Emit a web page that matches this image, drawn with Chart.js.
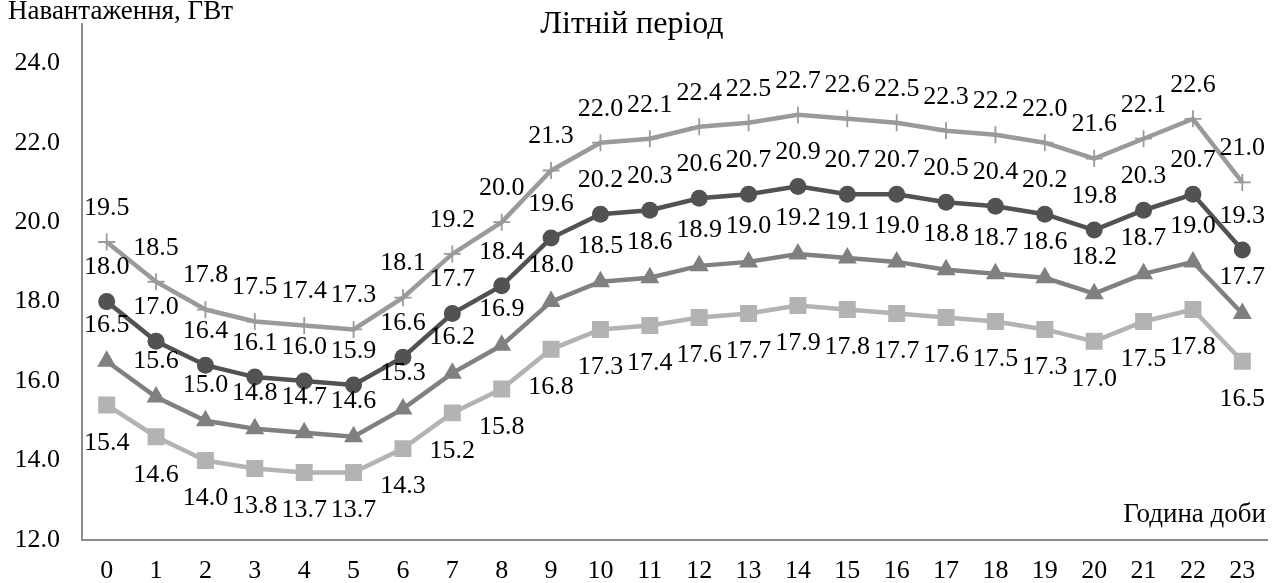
<!DOCTYPE html>
<html>
<head>
<meta charset="utf-8">
<script src="https://cdn.jsdelivr.net/npm/chart.js@4"></script>
<style>
  html, body { margin: 0; padding: 0; background: #fff; }
  #wrap { width: 1279px; height: 583px; position: relative; }
</style>
</head>
<body>
<div id="wrap"><canvas id="loadChart"></canvas></div>
<script>
// hours of the day
const hours = ["0","1","2","3","4","5","6","7","8","9","10","11","12","13","14","15","16","17","18","19","20","21","22","23"];

// load, GW
const seriesCross  = [19.5, 18.5, 17.8, 17.5, 17.4, 17.3, 18.1, 19.2, 20.0, 21.3, 22.0, 22.1, 22.4, 22.5, 22.7, 22.6, 22.5, 22.3, 22.2, 22.0, 21.6, 22.1, 22.6, 21.0];
const seriesCircle = [18.0, 17.0, 16.4, 16.1, 16.0, 15.9, 16.6, 17.7, 18.4, 19.6, 20.2, 20.3, 20.6, 20.7, 20.9, 20.7, 20.7, 20.5, 20.4, 20.2, 19.8, 20.3, 20.7, 19.3];
const seriesTri    = [16.5, 15.6, 15.0, 14.8, 14.7, 14.6, 15.3, 16.2, 16.9, 18.0, 18.5, 18.6, 18.9, 19.0, 19.2, 19.1, 19.0, 18.8, 18.7, 18.6, 18.2, 18.7, 19.0, 17.7];
const seriesSquare = [15.4, 14.6, 14.0, 13.8, 13.7, 13.7, 14.3, 15.2, 15.8, 16.8, 17.3, 17.4, 17.6, 17.7, 17.9, 17.8, 17.7, 17.6, 17.5, 17.3, 17.0, 17.5, 17.8, 16.5];

const chartTitle = "Літній період";
const yTitle = "Навантаження, ГВт";
const xTitle = "Година доби";

const serif = '"Liberation Serif", "Times New Roman", serif';

// value labels above (or below) each point
const valueLabels = {
    id: 'valueLabels',
    afterDatasetsDraw(chart) {
        const ctx = chart.ctx;
        ctx.save();
        ctx.font = '26px ' + serif;
        ctx.fillStyle = '#000';
        ctx.textAlign = 'center';
        ctx.textBaseline = 'middle';
        chart.data.datasets.forEach((ds, i) => {
            const meta = chart.getDatasetMeta(i);
            meta.data.forEach((pt, j) => {
                ctx.fillText(ds.data[j].toFixed(1), pt.x, pt.y + ds.labelOffset);
            });
        });
        ctx.restore();
    }
};

// title and axis captions
const captions = {
    id: 'captions',
    afterDraw(chart) {
        const ctx = chart.ctx;
        ctx.save();
        ctx.fillStyle = '#000';
        ctx.textBaseline = 'alphabetic';
        ctx.font = '32px ' + serif;
        ctx.textAlign = 'center';
        ctx.fillText(chartTitle, 632, 33);
        ctx.font = '27px ' + serif;
        ctx.textAlign = 'left';
        ctx.fillText(yTitle, 8, 19);
        ctx.textAlign = 'right';
        ctx.fillText(xTitle, 1266, 522);
        ctx.restore();
    }
};

const ctx = document.getElementById('loadChart').getContext('2d');
new Chart(ctx, {
    type: 'line',
    data: {
        labels: hours,
        datasets: [
            {
                data: seriesCross,
                borderColor: '#9a9a9a',
                backgroundColor: '#9a9a9a',
                borderWidth: 4.5,
                pointStyle: 'cross',
                pointRadius: 8.5,
                pointBorderWidth: 1.8,
                labelOffset: -34
            },
            {
                data: seriesCircle,
                borderColor: '#525252',
                backgroundColor: '#525252',
                borderWidth: 4.5,
                pointStyle: 'circle',
                pointRadius: 8.5,
                pointBorderWidth: 0,
                labelOffset: -34
            },
            {
                data: seriesTri,
                borderColor: '#808080',
                backgroundColor: '#808080',
                borderWidth: 4.5,
                pointStyle: 'triangle',
                pointRadius: 11,
                pointBorderWidth: 0,
                labelOffset: -36
            },
            {
                data: seriesSquare,
                borderColor: '#b3b3b3',
                backgroundColor: '#b3b3b3',
                borderWidth: 4.5,
                pointStyle: 'rect',
                pointRadius: 12,
                pointBorderWidth: 0,
                labelOffset: 38
            }
        ]
    },
    options: {
        responsive: true,
        maintainAspectRatio: false,
        animation: false,
        events: [],
        layout: { padding: { top: 23.5, right: 10, bottom: 0, left: 0 } },
        elements: { line: { tension: 0 } },
        plugins: {
            legend: { display: false },
            title: { display: false },
            tooltip: { enabled: false }
        },
        scales: {
            x: {
                offset: true,
                grid: { display: false, drawTicks: false },
                border: { display: true, color: '#8c8c8c', width: 2 },
                ticks: {
                    color: '#000',
                    padding: 16,
                    maxRotation: 0,
                    autoSkip: false,
                    font: { family: serif, size: 26 }
                },
                afterFit(scale) {
                    scale.height = 43;
                    scale.paddingLeft = 0;
                    scale.paddingRight = 0;
                }
            },
            y: {
                min: 12,
                max: 25,
                grid: { display: false, drawTicks: false },
                border: { display: true, color: '#8c8c8c', width: 2 },
                ticks: {
                    stepSize: 2,
                    color: '#000',
                    padding: 22,
                    font: { family: serif, size: 26 },
                    callback: v => v.toFixed(1)
                },
                afterBuildTicks(scale) {
                    scale.ticks = scale.ticks.filter(t => t.value <= 24);
                },
                afterFit(scale) {
                    scale.width = 82;
                    scale.paddingTop = 0;
                    scale.paddingBottom = 0;
                }
            }
        }
    },
    plugins: [valueLabels, captions]
});
</script>
</body>
</html>
